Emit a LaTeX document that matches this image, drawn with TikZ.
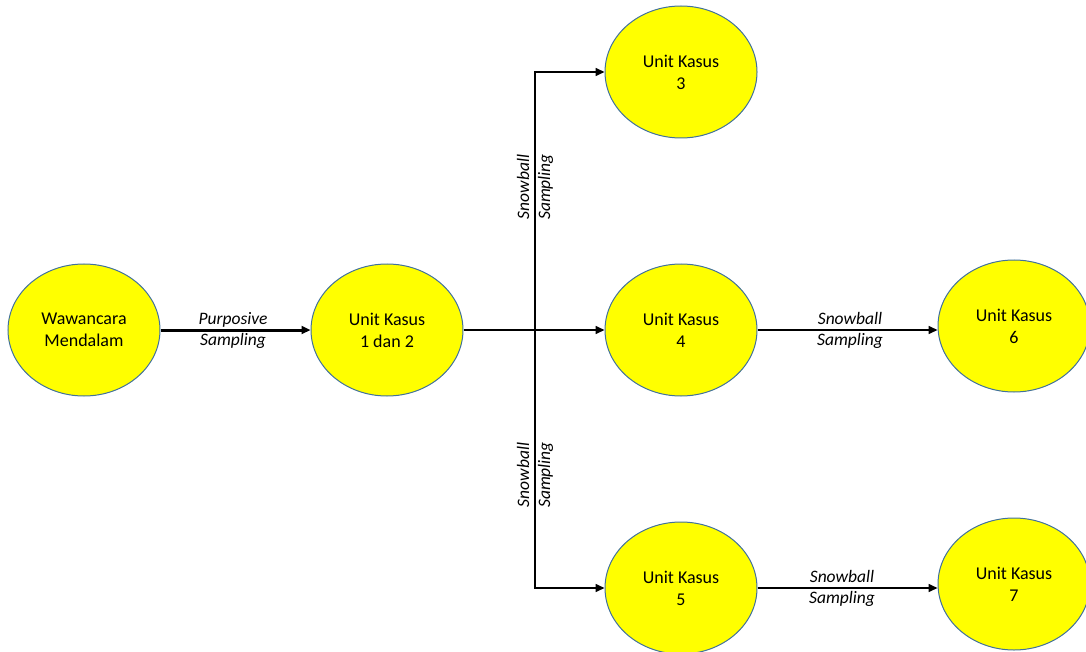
\documentclass[tikz,border=0pt]{standalone}
\usepackage{fontspec}
\setmainfont{Carlito}
\usetikzlibrary{shapes.geometric,arrows.meta}
\definecolor{kasusfill}{HTML}{FFFF00}
\definecolor{kasusline}{HTML}{41719C}
\begin{document}
\begin{tikzpicture}[x=1pt,y=-1pt,
    kasus/.style={ellipse,draw=kasusline,fill=kasusfill,line width=1pt,minimum width=152pt,minimum height=132pt,inner sep=0pt,align=center,font=\fontsize{18}{22}\selectfont},
    metode/.style={align=center,inner sep=0pt,font=\fontsize{17.5}{21}\selectfont\itshape},
    panah/.style={line width=1.6pt,-{Triangle[length=9pt,width=8pt]}}]
    \useasboundingbox (0,0) rectangle (1086,652);
    \node[kasus] (ww) at (84,330) {Wawancara\\Mendalam};
    \node[kasus] (u12) at (387,330) {Unit Kasus\\1 dan 2};
    \node[kasus] (u3) at (681,72) {Unit Kasus\\3};
    \node[kasus] (u4) at (681,330) {Unit Kasus\\4};
    \node[kasus] (u5) at (681,588) {Unit Kasus\\5};
    \node[kasus] (u6) at (1014,326) {Unit Kasus\\6};
    \node[kasus] (u7) at (1014,584) {Unit Kasus\\7};
    \coordinate (cab) at (535,330);

        \draw[panah,line width=3pt] (ww) -- (u12);
        \draw[line width=2.4pt] (u12) -- (cab);
        \draw[panah] (cab) -- (u4);
        \draw[panah] (cab) |- (u3);
        \draw[panah] (cab) |- (u5);
        \draw[panah] (u4.east) -- (u6.west |- u4.east);
        \draw[panah] (u5.east) -- (u7.west |- u5.east);

    \node[metode] (m1) at (233,330) {Purposive\\Sampling};
    \node[metode,rotate=90] (m2) at (535,187) {Snowball\\Sampling};
    \node[metode,rotate=90] (m3) at (535,475) {Snowball\\Sampling};
    \node[metode] (m4) at (850,330) {Snowball\\Sampling};
    \node[metode] (m5) at (842,588) {Snowball\\Sampling};
             \end{tikzpicture}
\end{document}
